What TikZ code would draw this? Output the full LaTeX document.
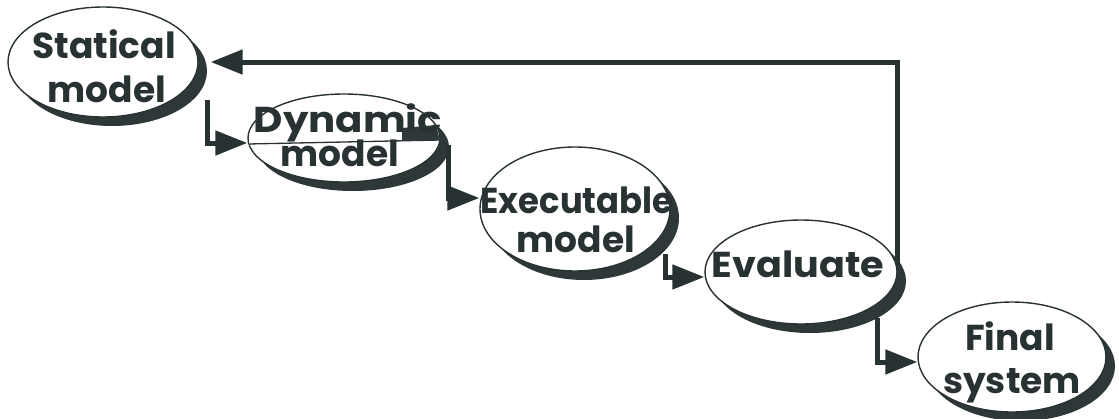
\documentclass[tikz,border=0pt]{standalone}
\usepackage{fontspec}
\newfontfamily\popfont{Poppins}
\usetikzlibrary{arrows.meta,shadows,calc,shapes.geometric}
\definecolor{ink}{HTML}{283232}
\definecolor{shadowc}{HTML}{2E3838}
\tikzset{
  ell/.style={ellipse, draw=ink, line width=1.4pt, fill=white, inner sep=0pt,
    drop shadow={shadow xshift=9pt, shadow yshift=-9pt, fill=shadowc, opacity=1}},
  lbl/.style={anchor=base, inner sep=0pt, text=ink, font=\popfont\bfseries\fontsize{36}{40}\selectfont},
  conn/.style={draw=ink, line width=5pt, -{Triangle[length=32pt,width=24pt]}},
}
\begin{document}
\begin{tikzpicture}[x=1pt,y=-1pt]
\useasboundingbox (0,0) rectangle (1119,418);
% ellipses
\node[ell, minimum width=190pt, minimum height=110pt] (S) at (103,62) {};
\node[ell, minimum width=192pt, minimum height=88pt] (D) at (344,138) {};
\node[ell, minimum width=190pt, minimum height=124pt] (E) at (575,209) {};
\node[ell, minimum width=192pt, minimum height=104pt] (V) at (801,272) {};
\node[ell, minimum width=188pt, minimum height=110pt] (F) at (1012,357) {};
% scan marks inside the dynamic model ellipse
\begin{scope}
\clip (D.center) ellipse [x radius=95pt, y radius=43pt];
\draw[ink, line width=1.3pt] ($(D.center)+(-96,6)$) -- ($(D.center)+(96,2)$);
\fill[shadowc] ($(D.center)+(58,-10)$) -- ($(D.center)+(104,-14)$) -- ($(D.center)+(104,2)$) -- ($(D.center)+(58,3)$) -- cycle;
\end{scope}
% texts
\node[lbl] (S1) at (104,58) {Statical};
\node[lbl] (S2) at (107,102) {model};
\node[lbl] (D1) at (348,132) {\scalebox{1.12}[1]{Dynamic}};
\node[lbl] (D2) at (340,166) {model};
\node[lbl] (E1) at (577,213) {\scalebox{0.94}[1]{Executable}};
\node[lbl] (E2) at (576,252) {model};
\node[lbl] (V1) at (798,277) {\scalebox{1.06}[1]{Evaluate}};
\node[lbl] (F1) at (1010,350) {Final};
\node[lbl] (F2) at (1012,393) {system};
% connectors
\draw[conn] ([xshift=104pt,yshift=-38pt]S.center) |- ([yshift=-5pt]D.west);
\draw[conn] ([xshift=104pt,yshift=-7pt]D.center) |- ([yshift=11pt]E.west);
\draw[conn] ([xshift=90pt,yshift=-45pt]E.center) |- ([yshift=-5pt]V.west);
\draw[conn] ([xshift=76pt,yshift=-46pt]V.center) |- ([yshift=-5pt]F.west);
\draw[conn] ([xshift=96pt,yshift=7pt]V.center) |- ([xshift=12pt]S.east);
\end{tikzpicture}
\end{document}
